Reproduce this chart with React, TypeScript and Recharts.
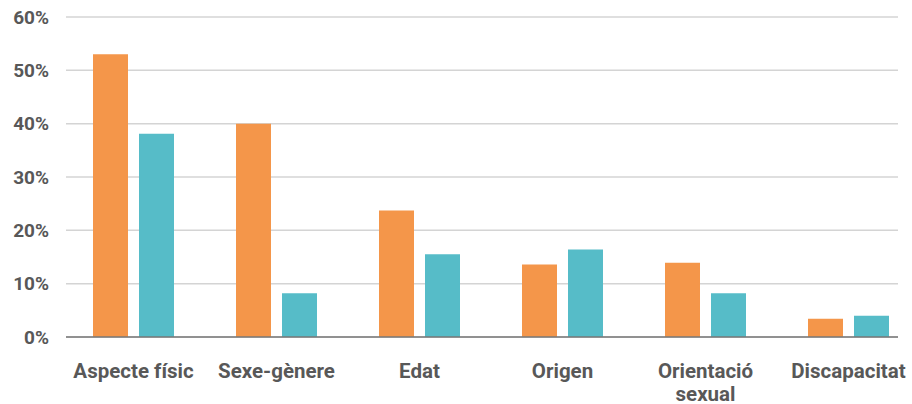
import React from "react";
import { BarChart, Bar, XAxis, YAxis, CartesianGrid } from "recharts";

const categories = [
  "Aspecte físic",
  "Sexe-gènere",
  "Edat",
  "Origen",
  "Orientació sexual",
  "Discapacitat",
];
const seriesA = [53.0, 40.0, 23.7, 13.6, 13.9, 3.4];
const seriesB = [38.1, 8.2, 15.5, 16.4, 8.2, 4.0];
const yTicks = [0, 10, 20, 30, 40, 50, 60];

const data = categories.map((name, i) => ({
  name,
  a: seriesA[i],
  b: seriesB[i],
}));

const TEXT = "#585858";
const FONT = "Roboto, 'Noto Sans', sans-serif";

// splits two-word labels like "Orientació sexual" onto two lines
function CategoryTick({ x, y, payload }: any) {
  const label: string = payload.value;
  const lines = label === "Orientació sexual" ? ["Orientació", "sexual"] : [label];
  return (
    <text
      x={x}
      y={y + 39}
      textAnchor="middle"
      fill={TEXT}
      fontFamily={FONT}
      fontWeight={700}
      fontSize={20.5}
    >
      {lines.map((l, i) => (
        <tspan key={l} x={x} dy={i === 0 ? 0 : 23}>
          {l}
        </tspan>
      ))}
    </text>
  );
}

export default function App() {
  return (
    <div style={{ position: "absolute", left: 0, top: 0, width: 912, height: 404 }}>
      <BarChart
        width={912}
        height={404}
        data={data}
        margin={{ top: 17, right: 14, bottom: 7, left: 0 }}
        barSize={35}
        barGap={11}
      >
        <CartesianGrid
          vertical={false}
          stroke="#d4d4d4"
          strokeWidth={1.5}
        />
        <XAxis
          dataKey="name"
          height={60}
          interval={0}
          padding={{ left: -4, right: -22 }}
          tickLine={false}
          tickSize={0}
          axisLine={{ stroke: "#777", strokeWidth: 1.5 }}
          tick={<CategoryTick />}
        />
        <YAxis
          width={66}
          domain={[0, 60]}
          ticks={yTicks}
          tickFormatter={(v) => `${v}%`}
          axisLine={false}
          tickLine={false}
          tickSize={0}
          tickMargin={17}
          tick={{
            fill: TEXT,
            fontFamily: FONT,
            fontWeight: 700,
            fontSize: 19,
          }}
        />
        <Bar dataKey="a" fill="#F4964A" isAnimationActive={false} />
        <Bar dataKey="b" fill="#56BCC8" isAnimationActive={false} />
      </BarChart>
    </div>
  );
}
